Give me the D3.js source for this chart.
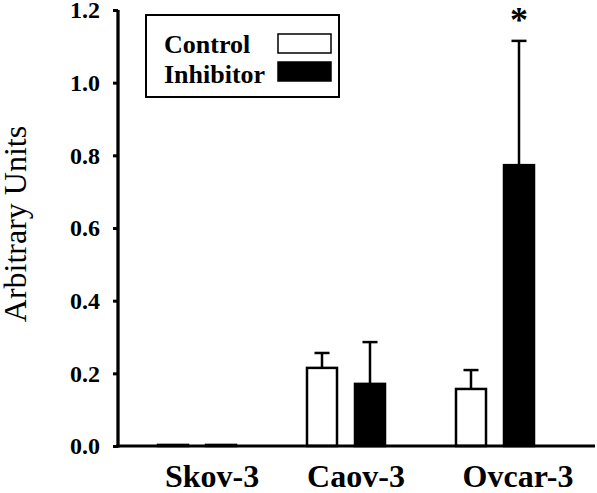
<!DOCTYPE html>
<html>
<head>
<meta charset="utf-8">
<script src="https://cdn.jsdelivr.net/npm/d3@7"></script>
<style>
  body { margin: 0; background: #fff; }
  svg { display: block; }
</style>
</head>
<body>
<svg id="chart" width="597" height="493"></svg>
<script>
// ---- data ----
const categories = ["Skov-3", "Caov-3", "Ovcar-3"];
const seriesNames = ["Control", "Inhibitor"];
const controlValues = [0.003, 0.215, 0.157];
const controlErrors = [0.001, 0.041, 0.052];
const inhibitorValues = [0.003, 0.171, 0.773];
const inhibitorErrors = [0.001, 0.115, 0.342];
const yTicks = [0.0, 0.2, 0.4, 0.6, 0.8, 1.0, 1.2];
const significant = [false, false, true]; // asterisk on inhibitor bar

// ---- layout ----
const svg = d3.select("#chart");
const fontName = "Liberation Serif";
const axisX = 118, axisBottom = 446, axisTop = 10, axisRight = 595;

const y = d3.scaleLinear().domain([0, 1.2]).range([axisBottom, axisTop]);
const x0 = d3.scaleBand().domain(categories).range([122.5, 569.5]).padding(0);
const x1 = d3.scaleBand().domain(seriesNames).range([35.5, 113.5]).paddingInner(0.375).paddingOuter(0);

const rows = [];
categories.forEach((c, i) => {
  rows.push({cat: c, series: "Control", v: controlValues[i], e: controlErrors[i], star: false});
  rows.push({cat: c, series: "Inhibitor", v: inhibitorValues[i], e: inhibitorErrors[i], star: significant[i]});
});
const fill = s => s === "Control" ? "#fff" : "#000";

// bars
svg.append("g").selectAll("rect").data(rows).join("rect")
  .attr("x", d => x0(d.cat) + x1(d.series))
  .attr("y", d => y(d.v))
  .attr("width", x1.bandwidth())
  .attr("height", d => y(0) - y(d.v))
  .attr("fill", d => fill(d.series))
  .attr("stroke", "#000")
  .attr("stroke-width", 2.5);

// error bars (upper only)
const eb = svg.append("g").attr("stroke", "#000").attr("stroke-width", 2.5);
rows.filter(d => d.e > 0.005).forEach(d => {
  const cx = x0(d.cat) + x1(d.series) + x1.bandwidth() / 2;
  eb.append("line").attr("x1", cx).attr("x2", cx).attr("y1", y(d.v)).attr("y2", y(d.v + d.e));
  eb.append("line").attr("x1", cx - 7.5).attr("x2", cx + 7.5).attr("y1", y(d.v + d.e)).attr("y2", y(d.v + d.e));
});

// asterisk
rows.filter(d => d.star).forEach(d => {
  const cx = x0(d.cat) + x1(d.series) + x1.bandwidth() / 2;
  svg.append("text").attr("x", cx).attr("y", y(d.v + d.e) - 9)
    .attr("text-anchor", "middle").attr("font-family", fontName).attr("font-weight", "bold")
    .attr("font-size", 36).text("*");
});

// y axis
const yAxis = d3.axisLeft(y).tickValues(yTicks).tickFormat(d3.format(".1f")).tickSize(5).tickPadding(13);
const gy = svg.append("g").attr("transform", `translate(${axisX},0)`).call(yAxis);
gy.attr("font-family", fontName).attr("font-size", 24).attr("font-weight", "bold");
gy.select(".domain").remove();
gy.selectAll(".tick line").attr("stroke", "#000").attr("stroke-width", 3);
gy.selectAll(".tick text").attr("font-family", fontName).attr("font-weight", "bold")
  .attr("font-size", 24).attr("fill", "#000");
svg.append("line").attr("x1", axisX).attr("x2", axisX).attr("y1", axisTop).attr("y2", axisBottom + 1.5)
  .attr("stroke", "#000").attr("stroke-width", 3.3);

// x axis line
svg.append("line").attr("x1", axisX - 1.6).attr("x2", axisRight).attr("y1", axisBottom).attr("y2", axisBottom)
  .attr("stroke", "#000").attr("stroke-width", 3);

// category labels
const labelOffset = [15, 10, 23];
svg.append("g").selectAll("text").data(categories).join("text")
  .attr("x", (d, i) => x0(d) + x0.bandwidth() / 2 + labelOffset[i])
  .attr("y", 487)
  .attr("text-anchor", "middle")
  .attr("font-family", fontName).attr("font-weight", "bold").attr("font-size", 32)
  .text(d => d);

// y title
svg.append("text")
  .attr("transform", "translate(26,224) rotate(-90)")
  .attr("text-anchor", "middle")
  .attr("font-family", fontName).attr("font-size", 32)
  .text("Arbitrary Units");

// legend
const lg = svg.append("g");
lg.append("rect").attr("x", 146).attr("y", 15).attr("width", 193).attr("height", 82)
  .attr("fill", "#fff").attr("stroke", "#000").attr("stroke-width", 2);
seriesNames.forEach((s, i) => {
  lg.append("text").attr("x", 164).attr("y", 53 + i * 30)
    .attr("font-family", fontName).attr("font-weight", "bold").attr("font-size", 26).text(s);
  lg.append("rect").attr("x", 278).attr("y", 34 + i * 28).attr("width", 53).attr("height", 19)
    .attr("fill", fill(s)).attr("stroke", "#000").attr("stroke-width", 1.5);
});
</script>
</body>
</html>
